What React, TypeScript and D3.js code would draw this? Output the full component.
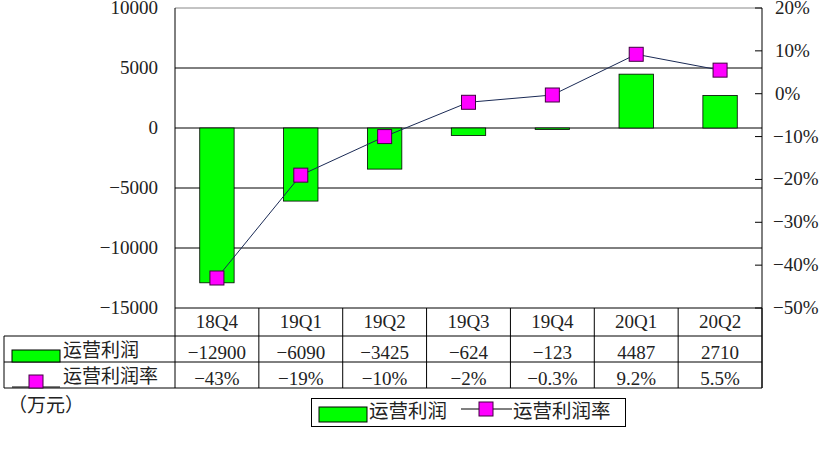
import * as d3 from "d3";

const categories = ["18Q4", "19Q1", "19Q2", "19Q3", "19Q4", "20Q1", "20Q2"];
const profit = [-12900, -6090, -3425, -624, -123, 4487, 2710];
const margin = [-43, -19, -10, -2, -0.3, 9.2, 5.5];
const profitLabels = ["-12900", "-6090", "-3425", "-624", "-123", "4487", "2710"];
const marginLabels = ["-43%", "-19%", "-10%", "-2%", "-0.3%", "9.2%", "5.5%"];
const leftTicks = [10000, 5000, 0, -5000, -10000, -15000];
const rightTicks = [20, 10, 0, -10, -20, -30, -40, -50];
const gridLines = [5000, 0, -5000, -10000];

const W = 825;
const H = 449;
const plot = { left: 175, right: 762, top: 8, bottom: 308 };
const rowH = [308, 336, 362, 388];
const numFont = "'Liberation Serif', 'Noto Sans CJK SC', serif";
const cjkFont = "'Noto Sans CJK SC', sans-serif";

export default function App() {
  const x = d3.scaleBand<string>().domain(categories).range([plot.left, plot.right]).padding(0);
  const yL = d3.scaleLinear().domain([-15000, 10000]).range([plot.bottom, plot.top]);
  const yR = d3.scaleLinear().domain([-50, 20]).range([plot.bottom, plot.top]);
  const bw = x.bandwidth() * 0.41;
  const cx = (c: string) => (x(c) as number) + x.bandwidth() / 2;

  const line = d3
    .line<number>()
    .x((_, i) => cx(categories[i]))
    .y((d) => yR(d));

  const fmt = (t: number) => (t < 0 ? "\u2212" + Math.abs(t) : String(t));

  return (
    <svg
      width={W}
      height={H}
      style={{ position: "absolute", left: 0, top: 0, background: "#fff" }}
    >
      {/* top border */}
      <line x1={plot.left} x2={plot.right} y1={plot.top} y2={plot.top} stroke="#888" />
      {/* grid lines */}
      {gridLines.map((g) => (
        <line key={g} x1={plot.left} x2={plot.right} y1={yL(g)} y2={yL(g)} stroke="#000" />
      ))}
      {/* bars */}
      {profit.map((v, i) => (
        <rect
          key={categories[i]}
          x={cx(categories[i]) - bw / 2}
          y={Math.min(yL(v), yL(0))}
          width={bw}
          height={Math.max(1, Math.abs(yL(v) - yL(0)))}
          fill="#00ff00"
          stroke="#000"
          strokeWidth={0.8}
        />
      ))}
      {/* axes */}
      <line x1={plot.left} x2={plot.left} y1={plot.top} y2={rowH[3]} stroke="#000" />
      <line x1={plot.right} x2={plot.right} y1={plot.top} y2={rowH[3]} stroke="#000" />
      {rightTicks.map((t) => (
        <line key={t} x1={plot.right - 7} x2={plot.right} y1={yR(t)} y2={yR(t)} stroke="#000" />
      ))}
      {leftTicks.map((t) => (
        <text
          key={t}
          x={158}
          y={yL(t) + 6}
          textAnchor="end"
          fontFamily={numFont}
          fontSize={19}
          fill="#222"
        >
          {fmt(t)}
        </text>
      ))}
      {rightTicks.map((t) => (
        <text
          key={t}
          x={t < 0 ? 773 : 775}
          y={yR(t) + 6}
          fontFamily={numFont}
          fontSize={19}
          fill="#222"
        >
          {fmt(t) + "%"}
        </text>
      ))}
      {/* margin line */}
      <path d={line(margin) as string} fill="none" stroke="#1a2a55" strokeWidth={1} />
      {margin.map((v, i) => (
        <rect
          key={categories[i]}
          x={cx(categories[i]) - 7}
          y={yR(v) - 7}
          width={14}
          height={14}
          fill="#ff00ff"
          stroke="#400040"
          strokeWidth={1}
        />
      ))}
      {/* data table */}
      <line x1={plot.left} x2={plot.right} y1={rowH[0]} y2={rowH[0]} stroke="#000" />
      {rowH.slice(1).map((y) => (
        <line key={y} x1={4} x2={plot.right} y1={y} y2={y} stroke="#000" />
      ))}
      <line x1={4} x2={4} y1={rowH[1]} y2={rowH[3]} stroke="#000" />
      {categories.map((c) => (
        <line
          key={c}
          x1={(x(c) as number) + x.bandwidth()}
          x2={(x(c) as number) + x.bandwidth()}
          y1={rowH[0]}
          y2={rowH[3]}
          stroke="#000"
        />
      ))}
      {categories.map((c, i) => (
        <g key={c} fontFamily={numFont} fontSize={19} fill="#222" textAnchor="middle">
          <text x={cx(c)} y={328}>{c}</text>
          <text x={cx(c)} y={359}>{profitLabels[i].replace("-", "\u2212")}</text>
          <text x={cx(c)} y={385}>{marginLabels[i].replace("-", "\u2212")}</text>
        </g>
      ))}
      {/* table legend keys */}
      <rect x={12} y={350} width={48} height={12} fill="#00ff00" stroke="#000" />
      <text x={63} y={352} fontFamily={cjkFont} fontSize={19} fill="#222" dominantBaseline="middle">
        运营利润
      </text>
      <line x1={12} x2={60} y1={387} y2={387} stroke="#000" />
      <rect x={29} y={375} width={14} height={13} fill="#ff00ff" stroke="#400040" />
      <text x={63} y={378} fontFamily={cjkFont} fontSize={19} fill="#222" dominantBaseline="middle">
        运营利润率
      </text>
      <text x={8} y={407} fontFamily={cjkFont} fontSize={19} fill="#222" dominantBaseline="middle">
        （万元）
      </text>
      {/* bottom legend */}
      <rect x={311.5} y={398.5} width={314} height={28} fill="#fff" stroke="#000" />
      <rect x={319} y={407} width={48} height={15} fill="#00ff00" stroke="#000" />
      <text x={369} y={413} fontFamily={cjkFont} fontSize={19.5} fill="#222" dominantBaseline="middle">
        运营利润
      </text>
      <line x1={461} x2={512} y1={409} y2={409} stroke="#000" />
      <rect x={479} y={402} width={14} height={14} fill="#ff00ff" stroke="#400040" />
      <text x={513} y={413} fontFamily={cjkFont} fontSize={19.5} fill="#222" dominantBaseline="middle">
        运营利润率
      </text>
    </svg>
  );
}
